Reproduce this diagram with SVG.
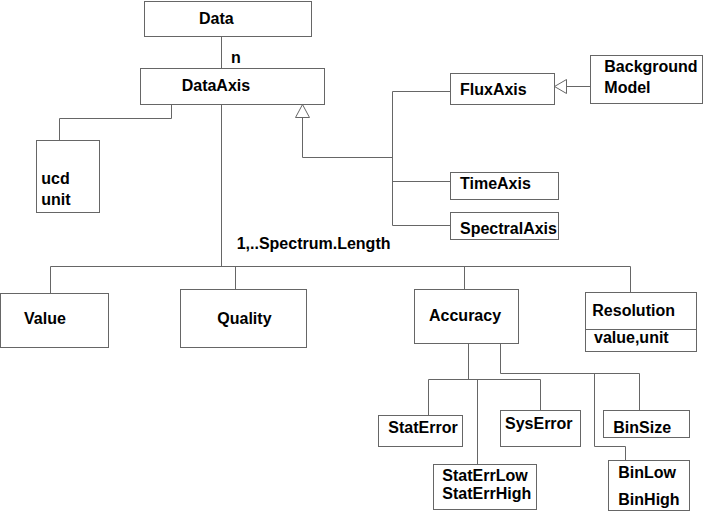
<svg xmlns="http://www.w3.org/2000/svg" width="704" height="511" viewBox="0 0 704 511">
<style>
.box{fill:#fff;stroke:#666;stroke-width:1}
.ln{fill:none;stroke:#666;stroke-width:1}
.tri{fill:#fff;stroke:#666;stroke-width:1}
text{font-family:"Liberation Sans",Arial,sans-serif;font-weight:bold;font-size:16px;fill:#000}
</style>
<rect width="704" height="511" fill="#fff"/>
<g id="connectors">
<path class="ln" d="M221.5,36.5 V68.5"/>
<path class="ln" d="M171.5,104.5 V118.5 H59.5 V140.5"/>
<path class="ln" d="M221.5,104.5 V266.5"/>
<path class="ln" d="M50.5,266.5 H630.5"/>
<path class="ln" d="M50.5,266.5 V293.5"/>
<path class="ln" d="M235.5,266.5 V289.5"/>
<path class="ln" d="M464.5,266.5 V289.5"/>
<path class="ln" d="M630.5,266.5 V292.5"/>
<path class="ln" d="M302.5,117.5 V157.5 H392.5"/>
<path class="ln" d="M392.5,91.5 V225.5"/>
<path class="ln" d="M392.5,91.5 H450.5 M392.5,181.5 H450.5 M392.5,225.5 H450.5"/>
<polygon class="tri" points="302.5,104.5 295.5,117.5 309.5,117.5"/>
<path class="ln" d="M566.5,86.5 H590.5"/>
<polygon class="tri" points="554.5,86.5 566.5,79.5 566.5,93.5"/>
<path class="ln" d="M468.5,343.5 V379.5 M428.5,379.5 H540.5 M428.5,379.5 V415.5 M477.5,379.5 V464.5 M540.5,379.5 V410.5"/>
<path class="ln" d="M500.5,343.5 V373.5 H639.5 V410.5"/>
<path class="ln" d="M594.5,373.5 V446.5 H625.5 V460.5"/>
<text x="231" y="63.3">n</text>
<text x="236.7" y="249.3">1,..Spectrum.Length</text>
</g>
<g id="Data"><rect class="box" x="144.5" y="1.5" width="167" height="35"/><text x="199" y="24">Data</text></g>
<g id="DataAxis"><rect class="box" x="140.5" y="68.5" width="184" height="36"/><text x="181.7" y="90.7">DataAxis</text></g>
<g id="ucdunit"><rect class="box" x="36.5" y="140.5" width="63" height="72"/><text x="41.3" y="184">ucd</text><text x="41.3" y="205">unit</text></g>
<g id="FluxAxis"><rect class="box" x="450.5" y="73.5" width="104" height="31"/><text x="460" y="95">FluxAxis</text></g>
<g id="BackgroundModel"><rect class="box" x="590.5" y="55.5" width="112" height="48"/><text x="604.3" y="71.7">Background</text><text x="604.3" y="93.3">Model</text></g>
<g id="TimeAxis"><rect class="box" x="450.5" y="172.5" width="108" height="27"/><text x="460" y="189">TimeAxis</text></g>
<g id="SpectralAxis"><rect class="box" x="450.5" y="212.5" width="108" height="27"/><text x="460" y="234">SpectralAxis</text></g>
<g id="Value"><rect class="box" x="0.5" y="293.5" width="108" height="54"/><text x="24" y="324.3">Value</text></g>
<g id="Quality"><rect class="box" x="180.5" y="289.5" width="126" height="58"/><text x="217.3" y="324.3">Quality</text></g>
<g id="Accuracy"><rect class="box" x="414.5" y="289.5" width="104" height="54"/><text x="429" y="320.7">Accuracy</text></g>
<g id="Resolution"><rect class="box" x="585.5" y="292.5" width="111" height="59"/><path class="ln" d="M585.5,329.5 H696.5"/><text x="592.3" y="316">Resolution</text><text x="594" y="343.3">value,unit</text></g>
<g id="StatError"><rect class="box" x="378.5" y="415.5" width="84" height="31"/><text x="388.3" y="432.7">StatError</text></g>
<g id="SysError"><rect class="box" x="500.5" y="410.5" width="80" height="36"/><text x="505" y="429">SysError</text></g>
<g id="StatErrLowHigh"><rect class="box" x="433.5" y="464.5" width="103" height="45"/><text x="442.3" y="480.7">StatErrLow</text><text x="442.3" y="499.3">StatErrHigh</text></g>
<g id="BinSize"><rect class="box" x="603.5" y="410.5" width="86" height="27"/><text x="613.3" y="432.7">BinSize</text></g>
<g id="BinLowHigh"><rect class="box" x="608.5" y="460.5" width="81" height="50"/><text x="618.3" y="477.7">BinLow</text><text x="618.3" y="505">BinHigh</text></g>
</svg>
